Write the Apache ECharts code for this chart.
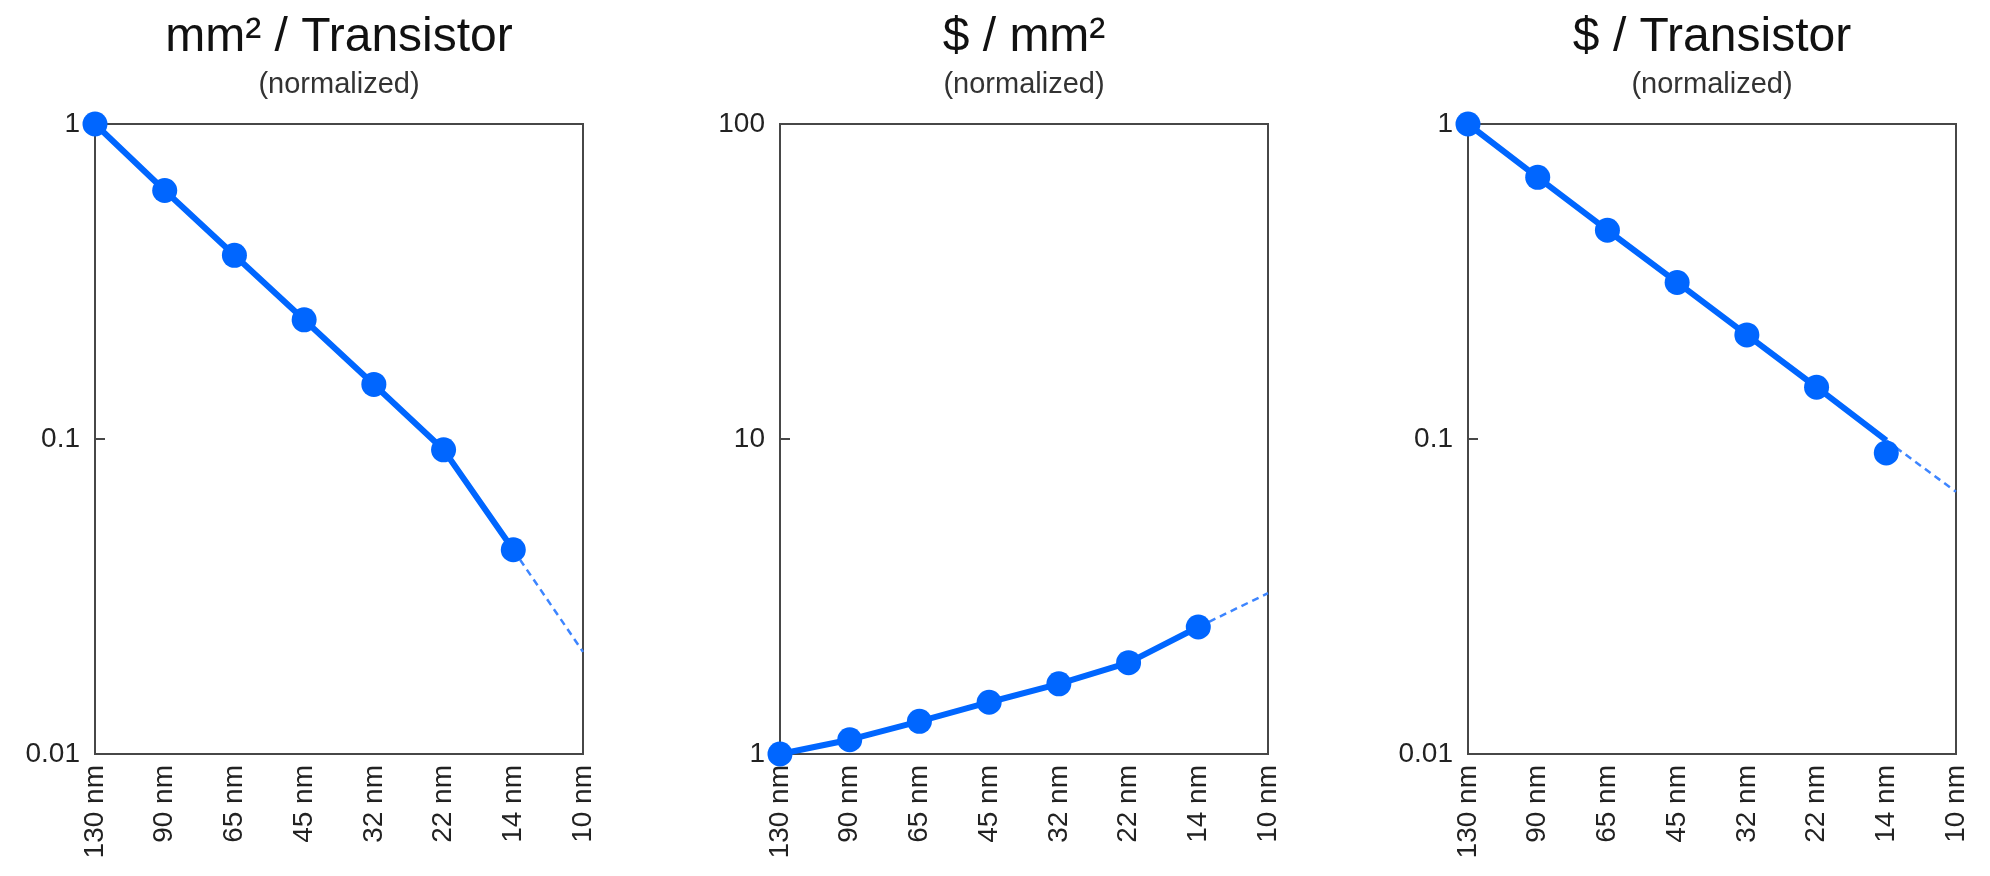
<!DOCTYPE html>
<html>
<head>
<meta charset="utf-8">
<script src="https://cdn.jsdelivr.net/npm/echarts@6/dist/echarts.min.js"></script>
<style>
  html, body { margin: 0; padding: 0; background: #fff; }
  #chart { width: 1990px; height: 876px; }
</style>
</head>
<body>
<div id="chart"></div>
<script>
// ---- data ----
const categories = ['130 nm', '90 nm', '65 nm', '45 nm', '32 nm', '22 nm', '14 nm', '10 nm'];

const panelTitles = ['mm² / Transistor', '$ / mm²', '$ / Transistor'];
const panelSubtitle = '(normalized)';

// mm² / Transistor
const areaPerTransistor = [1, 0.615, 0.383, 0.239, 0.149, 0.0924, 0.0445];
const areaTrend = [0.0445, 0.0211];          // 14 nm -> 10 nm projection
// $ / mm²
const costPerArea = [1, 1.11, 1.27, 1.46, 1.67, 1.95, 2.53];
const costPerAreaTrend = [2.53, 3.24];
// $ / Transistor
const costPerTransistorLine = [1, 0.677, 0.46, 0.314, 0.214, 0.146, 0.099];
const costPerTransistorPoints = [1, 0.677, 0.46, 0.314, 0.214, 0.146, 0.0903];
const costPerTransistorTrend = [0.099, 0.068];

// y-axis ranges (log) and tick labels
const yRanges = [[0.01, 1], [1, 100], [0.01, 1]];
const yTickLabels = [['0.01', '0.1', '1'], ['1', '10', '100'], ['0.01', '0.1', '1']];

// ---- styling / layout ----
const BLUE = '#0066ff';
const TREND_BLUE = '#3d85ff';
const AXIS = '#474747';
const FONT = 'Liberation Sans, Arial, Helvetica, sans-serif';
const gridLefts = [95, 780, 1468];
const GRID_W = 488, GRID_TOP = 124, GRID_H = 630;

function trendData(pair) {
  const d = categories.map(() => null);
  d[categories.length - 2] = pair[0];
  d[categories.length - 1] = pair[1];
  return d;
}

const grids = gridLefts.map(l => ({
  left: l, top: GRID_TOP, width: GRID_W, height: GRID_H,
  show: true, borderColor: AXIS, borderWidth: 2, backgroundColor: 'transparent'
}));

const titles = panelTitles.map((t, i) => ({
  text: t,
  subtext: panelSubtitle,
  left: gridLefts[i] + GRID_W / 2,
  top: 14,
  textAlign: 'center',
  padding: 0,
  itemGap: 8,
  textStyle: { fontFamily: FONT, fontSize: 48, fontWeight: 'normal', color: '#111' },
  subtextStyle: { fontFamily: FONT, fontSize: 29, color: '#333' }
}));

const xAxes = gridLefts.map((l, i) => ({
  type: 'category', gridIndex: i, data: categories, boundaryGap: false,
  axisLine: { show: true, lineStyle: { color: AXIS, width: 2 } },
  axisTick: { show: false },
  axisLabel: { rotate: 90, fontFamily: FONT, fontSize: 28, color: '#222', margin: 11, interval: 0 },
  splitLine: { show: false }
}));

const yAxes = gridLefts.map((l, i) => ({
  type: 'log', logBase: 10, gridIndex: i,
  min: yRanges[i][0], max: yRanges[i][1],
  axisLine: { show: true, lineStyle: { color: AXIS, width: 2 } },
  axisTick: { show: true, inside: true, length: 10, lineStyle: { color: AXIS, width: 2 } },
  minorTick: { show: false },
  splitLine: { show: false },
  axisLabel: {
    fontFamily: FONT, fontSize: 28, color: '#222', margin: 15,
    formatter: v => {
      const k = Math.round(Math.log10(v) - Math.log10(yRanges[i][0]));
      return yTickLabels[i][k] !== undefined ? yTickLabels[i][k] : '';
    }
  }
}));

function mainLine(idx, data, withSymbols) {
  return {
    type: 'line', xAxisIndex: idx, yAxisIndex: idx, data: data,
    symbol: withSymbols ? 'circle' : 'none', symbolSize: 25, showSymbol: withSymbols,
    itemStyle: { color: BLUE }, lineStyle: { color: BLUE, width: 6 },
    clip: false, z: 4, animation: false
  };
}
function trendLine(idx, pair) {
  return {
    type: 'line', xAxisIndex: idx, yAxisIndex: idx, data: trendData(pair),
    symbol: 'none', connectNulls: false,
    lineStyle: { color: TREND_BLUE, width: 2.5, type: [7, 5] },
    clip: false, z: 2, animation: false
  };
}

const series = [
  trendLine(0, areaTrend),
  mainLine(0, areaPerTransistor, true),
  trendLine(1, costPerAreaTrend),
  mainLine(1, costPerArea, true),
  trendLine(2, costPerTransistorTrend),
  mainLine(2, costPerTransistorLine, false),
  {
    type: 'scatter', xAxisIndex: 2, yAxisIndex: 2, data: costPerTransistorPoints,
    symbol: 'circle', symbolSize: 25, itemStyle: { color: BLUE, opacity: 1 },
    clip: false, z: 5, animation: false
  }
];

const chart = echarts.init(document.getElementById('chart'), null, { renderer: 'canvas' });
chart.setOption({
  backgroundColor: '#ffffff',
  animation: false,
  title: titles,
  grid: grids,
  xAxis: xAxes,
  yAxis: yAxes,
  series: series
});
</script>
</body>
</html>
